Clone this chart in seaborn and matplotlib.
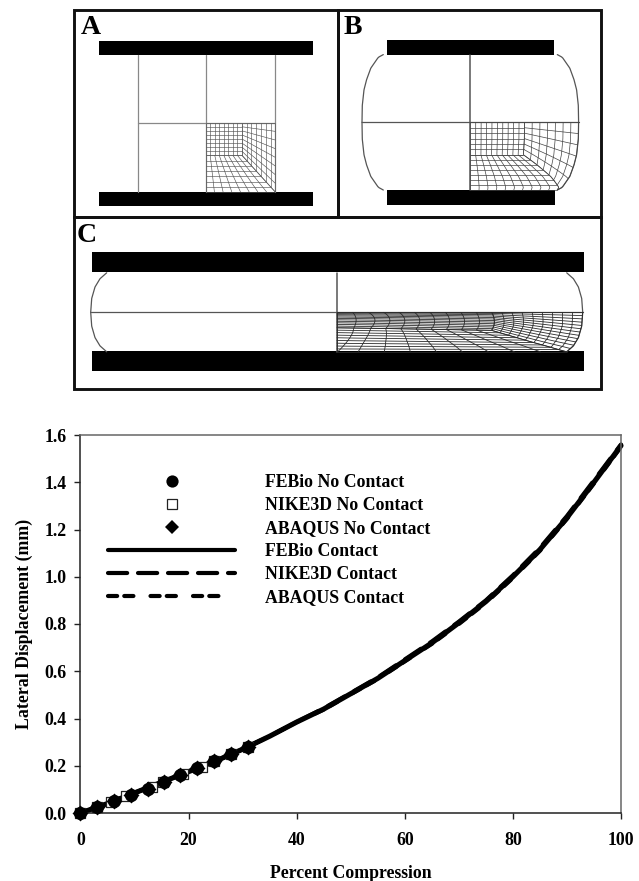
import numpy as np
import pandas as pd
import matplotlib
matplotlib.use("Agg")
import matplotlib.pyplot as plt
from matplotlib.lines import Line2D
from matplotlib.patches import Rectangle
import seaborn as sns

# ==============================
# data
# ==============================
compression = [0, 5, 10, 15, 20, 25, 30, 35, 40, 45, 50, 55, 60, 65, 70, 75, 80, 85, 90, 95, 100]
febio_contact = [0.0, 0.04, 0.085, 0.13, 0.175, 0.22, 0.27, 0.325, 0.385, 0.44, 0.505, 0.57,
                 0.645, 0.72, 0.805, 0.895, 1.0, 1.115, 1.25, 1.40, 1.555]
nike_contact = [0.0, 0.04, 0.085, 0.13, 0.175, 0.22, 0.27, 0.325, 0.385, 0.443, 0.508, 0.574,
                0.65, 0.726, 0.81, 0.90, 1.006, 1.122, 1.257, 1.408, 1.56]
abaqus_contact = [0.0, 0.04, 0.085, 0.13, 0.175, 0.22, 0.27, 0.325, 0.385, 0.438, 0.503, 0.567,
                  0.642, 0.716, 0.80, 0.89, 0.995, 1.11, 1.245, 1.395, 1.55]

febio_x = [0, 3.1, 6.2, 9.3, 12.4, 15.4, 18.5, 21.6, 24.7, 27.8, 30.9]
febio_y = [0.0, 0.025, 0.05, 0.075, 0.10, 0.13, 0.16, 0.19, 0.22, 0.25, 0.28]
nike_x = [0, 3.0, 5.6, 8.4, 13.2, 15.2, 18.9, 22.5, 24.7, 27.8, 30.9]
nike_y = [0.0, 0.025, 0.048, 0.07, 0.108, 0.13, 0.165, 0.195, 0.22, 0.25, 0.28]
abaqus_x = [0, 3.1, 6.2, 9.3, 12.4, 15.4, 18.5, 21.6, 24.7, 27.8, 30.9]
abaqus_y = [0.0, 0.025, 0.05, 0.075, 0.10, 0.13, 0.16, 0.19, 0.22, 0.25, 0.28]

x_ticks = [0, 20, 40, 60, 80, 100]
y_ticks = [0.0, 0.2, 0.4, 0.6, 0.8, 1.0, 1.2, 1.4, 1.6]

# outline of the bulged samples: height from mid plane (0-1) and half width in px
b_eta = [0, 0.25, 0.48, 0.63, 0.8, 0.96, 1]
b_half = [108.3, 108, 106.3, 103.7, 99.5, 92, 87]
c_eta = [0, 0.35, 0.64, 0.85, 1]
c_half = [246, 245, 241.7, 236.7, 230]

SERIF = "Liberation Serif"
INK = "#000000"
FS = 12.8

sns.set_theme(style="ticks")
plt.rcParams["font.family"] = [SERIF, "DejaVu Serif"]
plt.rcParams["font.weight"] = "bold"

fig = plt.figure(figsize=(6.39, 8.81), dpi=100)

# ==============================
# top: the three mesh panels, axes in image pixels
# ==============================
top = fig.add_axes([0, 0, 1, 1])
top.set_xlim(0, 639)
top.set_ylim(881, 0)
top.axis("off")


def box(x0, y0, x1, y1, fill=False):
    top.add_patch(Rectangle((x0, y0), x1 - x0, y1 - y0, fill=fill,
                            facecolor="black", edgecolor="#111111",
                            linewidth=0 if fill else 2.1))


def mesh_lines(nx, ny, rings, a, b, n=30):
    # butterfly mesh on the unit square, 0,0 is the sample centre
    sx = np.linspace(0, 1, nx + 1)
    sy = np.linspace(0, 1, ny + 1)
    t = np.linspace(0, 1, rings + 1)
    p = np.linspace(0, 1, n)
    out = []
    for si in sx:
        out.append((a * si + 0 * p, b * p))
        out.append((a * si * (1 - p) + si * p, b + (1 - b) * p))
    for si in sy:
        out.append((a * p, b * si + 0 * p))
        out.append((a + (1 - a) * p, b * si * (1 - p) + si * p))
    for ti in t:
        x = a + (1 - a) * ti
        y = b + (1 - b) * ti
        out.append((x + 0 * p, p * y))
        out.append((p * x, y + 0 * p))
    return out


def draw_mesh(lines, cx, cy, half, height, warp=None, color="#333333", lw=0.5):
    for x, y in lines:
        if warp is not None:
            x, y = warp(x, y)
        top.plot(cx + x * half(y), cy + y * height, color=color, lw=lw,
                 solid_capstyle="butt")


def draw_sample(cx, cy, height, eta, hw, color="#555555", lw=0.9):
    ys = np.linspace(0, 1, 60)
    w = np.interp(ys, eta, hw)
    for side in (-1, 1):
        top.plot(cx + side * w, cy + ys * height, color=color, lw=lw)
        top.plot(cx + side * w, cy - ys * height, color=color, lw=lw)
    top.plot([cx - hw[0], cx + hw[0]], [cy, cy], color=color, lw=lw)
    top.plot([cx, cx], [cy - height, cy + height], color=color, lw=lw + 0.2)


# panel A
box(99.3, 41, 313, 55, fill=True)
box(99.3, 192, 313, 205.7, fill=True)
for xv in (137.7, 205.7, 275.3):
    top.plot([xv, xv], [55, 192], color="#888888", lw=0.9)
top.plot([137.7, 275.3], [122.7, 122.7], color="#888888", lw=0.9)
draw_mesh(mesh_lines(8, 8, 7, 0.52, 0.47), 205.7, 122.7, lambda y: 69.6, 69.3,
          color="#555555", lw=0.45)

# panel B
box(387, 40.3, 553.7, 54.7, fill=True)
box(387, 190, 554.7, 204.7, fill=True)
draw_sample(470.3, 122.3, 67.7, b_eta, b_half)
draw_mesh(mesh_lines(10, 6, 7, 0.5, 0.48), 470.3, 122.3,
          lambda y: np.interp(y, b_eta, b_half), 67.7, color="#444444", lw=0.5)

# panel C
box(91.7, 251.7, 584.3, 272, fill=True)
box(91.7, 351, 584.3, 371, fill=True)
draw_sample(336.7, 312.3, 39.5, c_eta, c_half)


def c_warp(x, y):
    # squashed block: rows stay tight on the centre side, columns take an S bend
    yy = y ** (1 + 0.35 * (1 - x))
    fade = np.clip(x * 8, 0, 1) * (1 - x)
    xx = x + 0.035 * np.sin(np.pi * 1.6 * y) * fade - 0.10 * y ** 4 * fade
    return xx, yy


draw_mesh(mesh_lines(10, 12, 9, 0.63, 0.5), 336.7, 312.3,
          lambda y: np.interp(y, c_eta, c_half), 39.5, warp=c_warp,
          color="#2a2a2a", lw=0.6)

box(74, 9.5, 338, 217)
box(338, 9.5, 601, 217)
box(74, 217, 601, 389)

top.text(80.5, 34.5, "A", fontsize=20, color=INK, ha="left", va="baseline")
top.text(344, 33.5, "B", fontsize=20, color=INK, ha="left", va="baseline")
top.text(77, 242, "C", fontsize=20, color=INK, ha="left", va="baseline")

# ==============================
# bottom: displacement chart
# ==============================
ax = fig.add_axes([80.5 / 639, (881 - 813) / 881, 540.5 / 639, 378 / 881])
ax.patch.set_alpha(0)

LW = 3.0
NIKE_DASH = (0, (4.6, 2.6))
ABAQUS_DASH = (0, (2.2, 1.7, 2.2, 4.1))

curves = pd.DataFrame({"compression": compression, "febio": febio_contact,
                       "nike": nike_contact, "abaqus": abaqus_contact})
sns.lineplot(data=curves, x="compression", y="febio", ax=ax, color="black", lw=3.7,
             solid_capstyle="round", errorbar=None, clip_on=False)
sns.lineplot(data=curves, x="compression", y="nike", ax=ax, color="black", lw=LW,
             linestyle=NIKE_DASH, dash_capstyle="round", errorbar=None, clip_on=False)
sns.lineplot(data=curves, x="compression", y="abaqus", ax=ax, color="black", lw=LW,
             linestyle=ABAQUS_DASH, dash_capstyle="round", errorbar=None, clip_on=False)

sns.scatterplot(x=nike_x, y=nike_y, ax=ax, marker="s", s=62, facecolor="white",
                edgecolor="#222222", linewidth=0.9, clip_on=False, zorder=3)
sns.scatterplot(x=febio_x, y=febio_y, ax=ax, marker="o", s=90, color="black",
                linewidth=0, clip_on=False, zorder=4)
sns.scatterplot(x=abaqus_x, y=abaqus_y, ax=ax, marker="D", s=66, color="black",
                linewidth=0, clip_on=False, zorder=5)

ax.set_xlim(0, 100)
ax.set_ylim(0, 1.6)
ax.set_xticks(x_ticks)
ax.set_yticks(y_ticks)
ax.set_yticklabels([f"{v:.1f}" for v in y_ticks])
ax.tick_params(axis="both", direction="out", length=4, width=1.0, color="#222222",
               labelsize=FS, labelcolor=INK)
ax.tick_params(axis="x", pad=9.5)
ax.tick_params(axis="y", pad=6)
for name in ("left", "bottom"):
    ax.spines[name].set_linewidth(1.1)
    ax.spines[name].set_color("#222222")
for name in ("top", "right"):
    ax.spines[name].set_linewidth(1.1)
    ax.spines[name].set_color("#666666")

ax.set_xlabel("Percent Compression", fontsize=FS, fontweight="bold", color=INK, labelpad=12)
ax.set_ylabel("Lateral Displacement (mm)", fontsize=FS, fontweight="bold", color=INK, labelpad=8)

handles = [
    Line2D([], [], ls="", marker="o", ms=8.8, color="black", mew=0),
    Line2D([], [], ls="", marker="s", ms=7.2, mfc="white", mec="#222222", mew=0.9),
    Line2D([], [], ls="", marker="D", ms=7.2, color="black", mew=0),
    Line2D([], [], color="black", lw=LW, solid_capstyle="round"),
    Line2D([], [], color="black", lw=LW, ls=NIKE_DASH, dash_capstyle="round"),
    Line2D([], [], color="black", lw=LW, ls=ABAQUS_DASH, dash_capstyle="round"),
]
labels = ["FEBio No Contact", "NIKE3D No Contact", "ABAQUS No Contact",
          "FEBio Contact", "NIKE3D Contact", "ABAQUS Contact"]
leg = ax.legend(handles, labels, loc="upper left", bbox_to_anchor=(0.051, 0.897),
                frameon=False, borderpad=0, borderaxespad=0, handlelength=7.15,
                handletextpad=1.7, labelspacing=0.34, numpoints=1,
                prop={"family": SERIF, "weight": "bold", "size": FS})
for txt in leg.get_texts():
    txt.set_color(INK)

fig.savefig("out.png", dpi=100)
